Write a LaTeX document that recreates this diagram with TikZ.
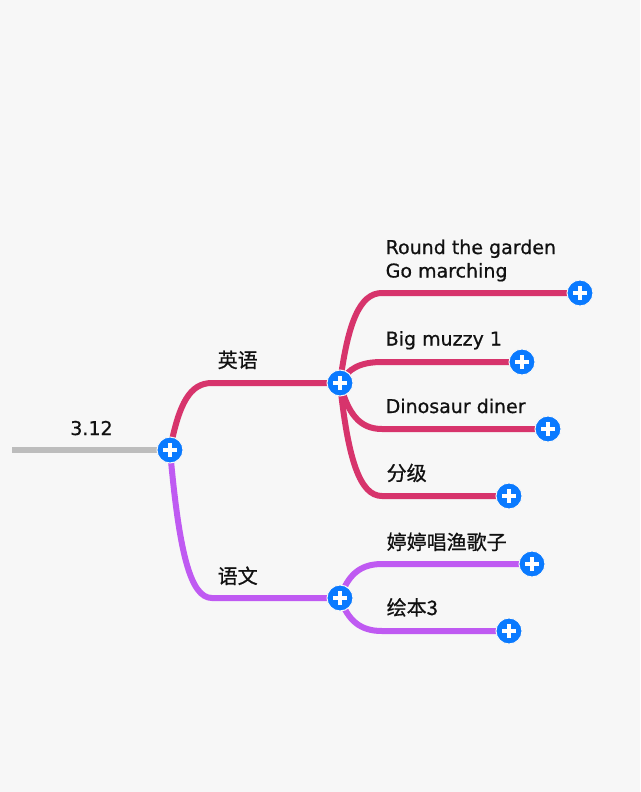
\documentclass[tikz,border=0pt]{standalone}
\usepackage{fontspec}
\setmainfont{DejaVu Sans}[FakeBold=0.7]
\newfontfamily\cjk{Noto Sans CJK SC}[FakeBold=0.8]
\usepackage{xcolor}
\usepackage{tikz}

\definecolor{bgcol}{HTML}{F7F7F7}
\definecolor{engcol}{HTML}{D7346C}
\definecolor{chncol}{HTML}{BF5AF2}
\definecolor{rootcol}{HTML}{BDBDBD}
\definecolor{plusblue}{HTML}{0A7AFF}
\definecolor{textcol}{HTML}{111111}

\pgfdeclarelayer{back}
\pgfdeclarelayer{lines}
\pgfsetlayers{back,lines,main}

\begin{document}
\begin{tikzpicture}[x=1pt,y=-1pt,line cap=round]
  \tikzstyle{plus}=[circle,fill=plusblue,draw=bgcol,line width=1pt,minimum size=26pt,inner sep=0pt,
    path picture={\draw[white,line width=3.4pt,line cap=butt]
      ([xshift=-7pt]path picture bounding box.center) -- ([xshift=7pt]path picture bounding box.center)
      ([yshift=-7pt]path picture bounding box.center) -- ([yshift=7pt]path picture bounding box.center);}]
  \tikzstyle{txt}=[anchor=base west,inner sep=0pt,text=textcol,font=\fontsize{19}{24}\selectfont]
  \tikzstyle{zh}=[txt,font=\cjk\fontsize{20}{24}\selectfont]
  \tikzstyle{branch}=[line width=6pt]
  \begin{pgfonlayer}{back}
    \fill[bgcol] (0,0) rectangle (640,792);
  \end{pgfonlayer}

  % topic nodes
  \node[plus] (root) at (170,450) {};
  \node[plus] (eng) at (340,383) {};
  \node[plus] (chn) at (340,598) {};
  \node[plus] (r1) at (580,293) {};
  \node[plus] (r2) at (522,362) {};
  \node[plus] (r3) at (548,429) {};
  \node[plus] (r4) at (509,496) {};
  \node[plus] (c1) at (532,564) {};
  \node[plus] (c2) at (509,631) {};
  \coordinate (start) at (12,450);

  % labels
  \node[txt,anchor=base] (l0) at (91.5,435) {3.12};
  \node[zh] (lEng) at (217.5,367.5) {英语};
  \node[zh] (lChn) at (217.5,583.5) {语文};
  \node[txt] (lr1a) at (385.5,254) {Round the garden};
  \node[txt] (lr1b) at (385.5,277.5) {Go marching};
  \node[txt] (lr2) at (385.5,345.5) {Big muzzy 1};
  \node[txt] (lr3) at (385.5,413) {Dinosaur diner};
  \node[zh] (lr4) at (386.5,480.5) {分级};
  \node[zh] (lc1) at (386.5,549.5) {婷婷唱渔歌子};
  \node[zh] (lc2) at (386.5,615) {绘本3};

  % connectors
  \begin{pgfonlayer}{lines}
    \draw[branch,rootcol] (start) -- (root.center);
    \draw[branch,engcol] (root.center) .. controls +(9,-47) and +(-22,0) .. (212,383) -- (eng.center);
    \draw[branch,chncol] (root.center) .. controls +(9,101) and +(-22,0) .. (212,598) -- (chn.center);
    \foreach \n/\yy in {r1/293,r2/362,r3/429,r4/496}{
      \pgfmathsetmacro\cy{0.68*(\yy-383)}
      \draw[branch,engcol] (eng.center) .. controls +(8,\cy) and +(-22,0) .. (382,\yy) -- (\n.center);
    }
    \foreach \n/\yy in {c1/564,c2/631}{
      \pgfmathsetmacro\cy{0.68*(\yy-598)}
      \draw[branch,chncol] (chn.center) .. controls +(8,\cy) and +(-22,0) .. (382,\yy) -- (\n.center);
    }
  \end{pgfonlayer}
\end{tikzpicture}
\end{document}
